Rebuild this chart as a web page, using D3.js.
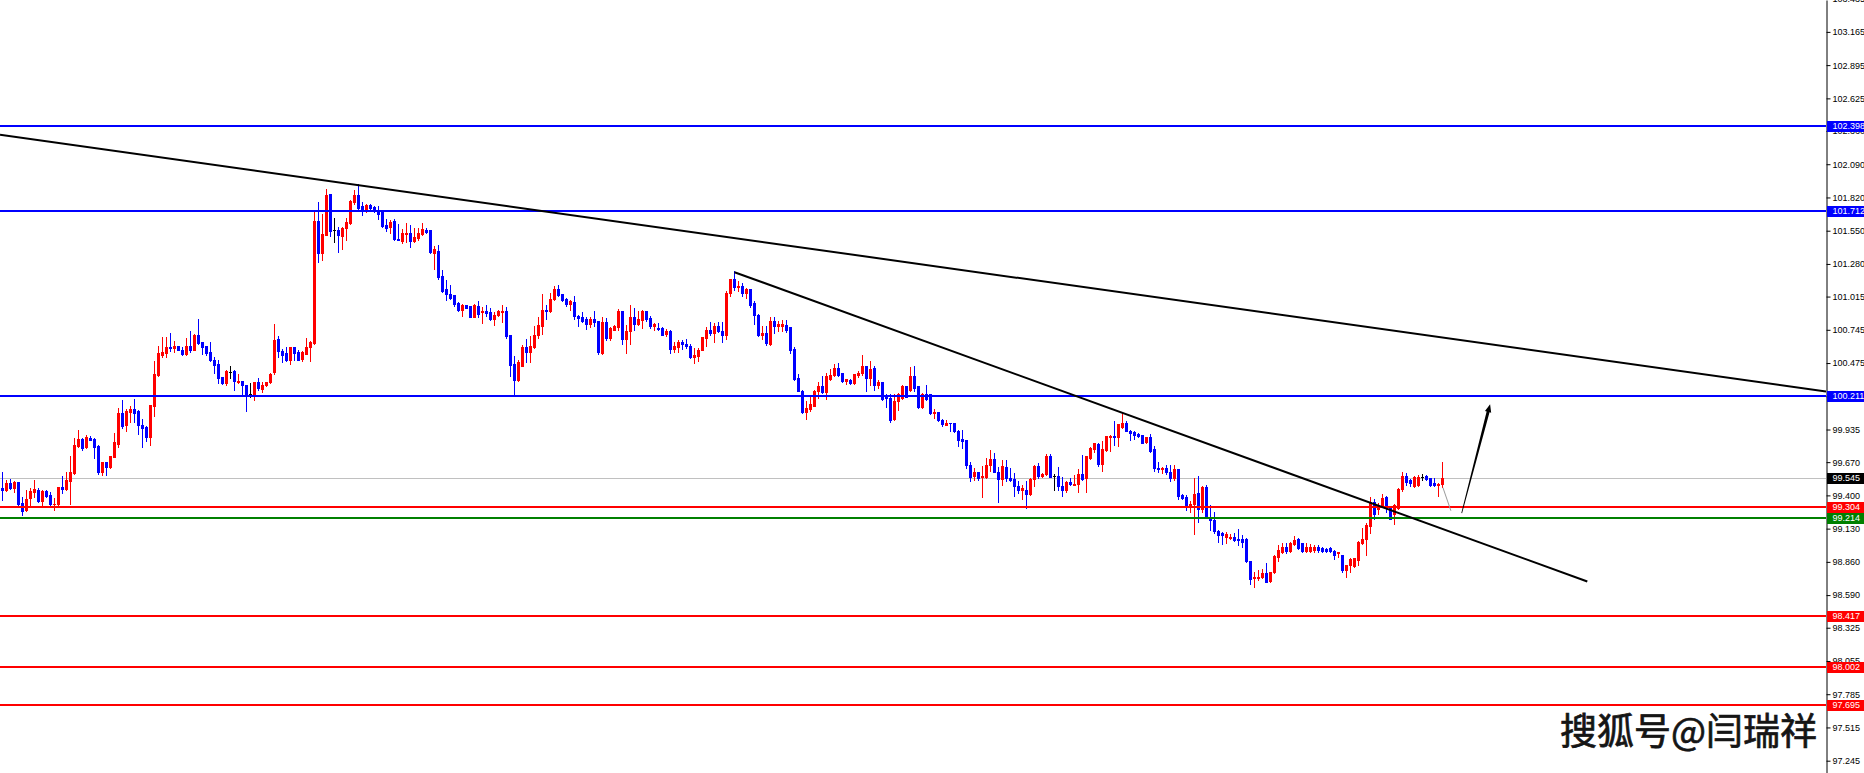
<!DOCTYPE html>
<html><head><meta charset="utf-8">
<script src="https://cdn.jsdelivr.net/npm/d3@7"></script>
<style>html,body{margin:0;padding:0;background:#fff;overflow:hidden}</style>
</head><body>
<svg id="c" width="1864" height="773"></svg>
<script>
const opens=[
99.459,99.442,99.497,99.459,99.505,99.342,99.280,99.378,99.426,99.445,
99.353,99.432,99.402,99.329,99.331,99.472,99.451,99.513,99.583,99.805,
99.862,99.792,99.870,99.854,99.805,99.594,99.675,99.629,99.711,99.819,
100.073,99.968,100.079,100.098,100.082,99.968,99.952,99.878,100.130,100.374,
100.542,100.553,100.602,100.596,100.610,100.585,100.547,100.612,100.577,100.702,
100.642,100.610,100.561,100.496,100.469,100.358,100.309,100.404,100.407,100.325,
100.333,100.298,100.227,100.227,100.317,100.268,100.298,100.317,100.406,100.674,
100.569,100.555,100.496,100.609,100.561,100.509,100.552,100.609,100.636,101.625,
101.368,101.514,101.847,101.552,101.552,101.511,101.571,101.611,101.787,101.836,
101.749,101.728,101.755,101.741,101.714,101.701,101.600,101.579,101.625,101.484,
101.470,101.522,101.535,101.470,101.489,101.527,101.557,101.552,101.368,101.389,
101.183,101.075,101.037,101.026,100.961,100.904,100.948,100.940,100.848,100.942,
100.886,100.894,100.886,100.832,100.862,100.889,100.894,100.699,100.464,100.334,
100.453,100.602,100.561,100.602,100.699,100.772,100.908,100.894,100.994,101.076,
101.032,100.994,100.954,100.967,100.854,100.845,100.832,100.791,100.832,100.813,
100.556,100.805,100.678,100.745,100.764,100.894,100.669,100.732,100.845,100.791,
100.826,100.894,100.837,100.772,100.759,100.759,100.710,100.732,100.588,100.604,
100.642,100.632,100.610,100.523,100.529,100.577,100.678,100.745,100.718,100.772,
100.732,100.699,101.043,101.156,101.089,101.102,101.048,101.075,100.962,100.867,
100.704,100.718,100.631,100.813,100.777,100.777,100.785,100.764,100.591,100.352,
100.252,100.081,100.100,100.130,100.244,100.285,100.238,100.347,100.374,100.433,
100.393,100.333,100.339,100.312,100.374,100.398,100.447,100.352,100.433,100.293,
100.325,100.198,100.190,100.019,100.168,100.190,100.285,100.257,100.366,100.285,
100.114,100.225,100.222,100.068,100.081,100.014,99.973,99.989,99.987,99.927,
99.857,99.846,99.648,99.561,99.586,99.548,99.548,99.648,99.694,99.594,
99.532,99.629,99.545,99.532,99.480,99.445,99.445,99.410,99.532,99.635,
99.559,99.572,99.716,99.559,99.559,99.480,99.440,99.505,99.488,99.491,
99.575,99.540,99.702,99.778,99.819,99.653,99.770,99.873,99.884,99.873,
99.959,99.987,99.924,99.913,99.897,99.892,99.832,99.878,99.775,99.626,
99.618,99.621,99.586,99.540,99.613,99.404,99.383,99.318,99.329,99.418,
99.288,99.472,99.220,99.201,99.112,99.093,99.058,99.052,99.066,99.047,
99.044,99.044,98.868,98.727,98.733,98.735,98.768,98.706,98.776,98.903,
98.944,98.984,98.949,99.003,99.044,99.011,98.949,98.952,98.957,98.979,
98.976,98.963,98.971,98.952,98.930,98.917,98.795,98.835,98.830,98.876,
99.011,99.044,99.155,99.350,99.290,99.323,99.383,99.296,99.250,99.296,
99.450,99.561,99.521,99.477,99.485,99.553,99.558,99.540,99.504,99.485,99.491];
const highs=[
99.586,99.526,99.537,99.518,99.505,99.383,99.440,99.459,99.521,99.456,
99.442,99.442,99.429,99.378,99.472,99.554,99.589,99.716,99.870,99.935,
99.870,99.887,99.881,99.865,99.811,99.675,99.675,99.716,99.906,100.109,
100.171,100.098,100.130,100.179,100.095,100.017,99.960,100.138,100.488,100.612,
100.683,100.683,100.723,100.658,100.610,100.602,100.677,100.732,100.715,100.829,
100.642,100.610,100.642,100.528,100.501,100.358,100.415,100.447,100.420,100.390,
100.333,100.298,100.309,100.325,100.357,100.325,100.325,100.398,100.796,100.691,
100.588,100.609,100.609,100.609,100.582,100.574,100.677,100.655,101.701,101.787,
101.684,101.890,101.847,101.657,101.579,101.584,101.652,101.801,101.882,101.931,
101.782,101.766,101.768,101.749,101.747,101.706,101.644,101.633,101.644,101.606,
101.560,101.611,101.598,101.571,101.571,101.611,101.571,101.557,101.422,101.430,
101.227,101.148,101.110,101.029,100.969,100.953,100.948,100.940,100.953,100.983,
100.934,100.943,100.919,100.886,100.908,100.948,100.927,100.705,100.529,100.502,
100.623,100.672,100.691,100.772,100.845,101.038,100.948,101.040,101.097,101.105,
101.032,101.002,100.989,101.016,100.867,100.886,100.845,100.845,100.894,100.818,
100.845,100.840,100.764,100.780,100.916,100.894,100.780,100.943,100.919,100.900,
100.902,100.894,100.854,100.799,100.799,100.767,100.751,100.745,100.642,100.659,
100.664,100.669,100.629,100.594,100.596,100.683,100.767,100.805,100.799,100.805,
100.805,101.062,101.156,101.219,101.138,101.124,101.083,101.075,100.980,100.872,
100.772,100.772,100.845,100.853,100.818,100.826,100.826,100.769,100.607,100.387,
100.257,100.163,100.203,100.255,100.317,100.366,100.393,100.428,100.471,100.474,
100.393,100.347,100.347,100.385,100.412,100.542,100.447,100.488,100.447,100.336,
100.325,100.222,100.222,100.225,100.230,100.293,100.285,100.439,100.447,100.285,
100.230,100.293,100.222,100.100,100.081,100.022,100.014,99.992,99.992,99.932,
99.932,99.846,99.675,99.621,99.594,99.635,99.702,99.770,99.743,99.629,
99.689,99.689,99.621,99.580,99.513,99.486,99.513,99.540,99.643,99.662,
99.580,99.735,99.737,99.572,99.629,99.553,99.513,99.540,99.567,99.613,
99.729,99.716,99.792,99.829,99.824,99.838,99.884,99.892,100.008,99.978,
100.073,100.008,99.932,99.924,99.903,99.892,99.873,99.900,99.802,99.675,
99.632,99.648,99.648,99.643,99.616,99.412,99.404,99.356,99.540,99.561,
99.477,99.485,99.323,99.263,99.120,99.106,99.106,99.085,99.093,99.128,
99.079,99.052,98.871,98.781,98.790,98.800,98.849,98.781,98.917,98.993,
99.011,99.011,99.025,99.071,99.052,99.017,99.011,99.003,98.993,98.993,
98.984,98.971,98.979,98.957,98.944,98.917,98.835,98.890,98.890,99.033,
99.133,99.179,99.383,99.369,99.342,99.410,99.391,99.301,99.328,99.458,
99.586,99.580,99.531,99.558,99.567,99.575,99.567,99.545,99.545,99.504,99.675];
const lows=[
99.361,99.432,99.451,99.424,99.310,99.239,99.272,99.310,99.388,99.350,
99.318,99.386,99.321,99.280,99.321,99.418,99.445,99.329,99.575,99.797,
99.767,99.789,99.846,99.702,99.572,99.564,99.567,99.621,99.711,99.797,
99.946,99.919,99.998,100.000,99.897,99.792,99.838,99.808,100.046,100.366,
100.528,100.526,100.572,100.564,100.580,100.537,100.539,100.564,100.577,100.626,
100.547,100.539,100.491,100.398,100.309,100.301,100.293,100.352,100.260,100.309,
100.222,100.087,100.200,100.176,100.257,100.238,100.292,100.311,100.385,100.523,
100.482,100.488,100.466,100.496,100.496,100.493,100.547,100.488,100.628,101.294,
101.313,101.514,101.503,101.457,101.376,101.400,101.476,101.603,101.768,101.720,
101.679,101.706,101.728,101.706,101.644,101.579,101.544,101.530,101.476,101.473,
101.449,101.457,101.414,101.457,101.476,101.516,101.530,101.368,101.238,101.156,
101.056,100.988,100.994,100.940,100.899,100.861,100.921,100.848,100.848,100.848,
100.799,100.854,100.821,100.780,100.854,100.805,100.678,100.366,100.223,100.326,
100.447,100.480,100.480,100.596,100.678,100.710,100.832,100.889,100.989,101.016,
100.975,100.935,100.908,100.832,100.772,100.808,100.751,100.767,100.772,100.548,
100.548,100.664,100.664,100.740,100.745,100.629,100.556,100.629,100.740,100.786,
100.759,100.813,100.759,100.745,100.745,100.699,100.691,100.556,100.561,100.564,
100.588,100.596,100.515,100.474,100.488,100.577,100.610,100.705,100.642,100.724,
100.650,100.672,101.016,101.070,101.062,101.016,101.002,100.934,100.791,100.691,
100.672,100.623,100.623,100.718,100.739,100.739,100.726,100.555,100.339,100.244,
100.073,100.019,100.087,100.127,100.195,100.230,100.182,100.339,100.366,100.366,
100.320,100.303,100.306,100.306,100.360,100.379,100.252,100.298,100.257,100.271,
100.176,100.122,100.000,100.014,100.095,100.182,100.203,100.249,100.249,100.108,
100.108,100.176,100.060,100.027,100.006,99.965,99.968,99.919,99.913,99.805,
99.789,99.621,99.518,99.526,99.526,99.383,99.540,99.602,99.586,99.350,
99.486,99.518,99.518,99.399,99.418,99.369,99.301,99.404,99.477,99.540,
99.553,99.567,99.548,99.440,99.440,99.391,99.426,99.486,99.486,99.431,
99.526,99.426,99.694,99.756,99.640,99.602,99.762,99.764,99.811,99.802,
99.951,99.919,99.846,99.857,99.878,99.824,99.824,99.756,99.599,99.594,
99.580,99.575,99.513,99.526,99.369,99.372,99.282,99.263,99.085,99.182,
99.263,99.215,99.120,99.098,99.025,99.003,99.011,99.044,99.033,98.998,
98.984,98.857,98.678,98.654,98.714,98.727,98.695,98.700,98.773,98.863,
98.930,98.936,98.944,98.998,98.963,98.944,98.944,98.944,98.944,98.944,
98.944,98.938,98.944,98.882,98.903,98.781,98.741,98.776,98.822,98.835,
99.006,98.917,99.098,99.206,99.247,99.309,99.269,99.209,99.166,99.290,
99.437,99.485,99.477,99.472,99.477,99.526,99.526,99.477,99.477,99.399,99.472];
const closes=[
99.442,99.497,99.459,99.505,99.334,99.275,99.372,99.432,99.448,99.353,
99.432,99.391,99.331,99.334,99.472,99.451,99.521,99.594,99.813,99.862,
99.784,99.878,99.846,99.797,99.594,99.675,99.627,99.716,99.830,100.073,
99.960,100.082,100.098,100.073,99.968,99.946,99.878,100.138,100.382,100.553,
100.561,100.602,100.596,100.612,100.580,100.547,100.612,100.577,100.702,100.634,
100.604,100.553,100.499,100.461,100.352,100.309,100.407,100.404,100.328,100.333,
100.293,100.222,100.227,100.317,100.271,100.298,100.317,100.390,100.666,100.569,
100.542,100.501,100.609,100.555,100.501,100.561,100.609,100.650,101.625,101.368,
101.522,101.841,101.544,101.552,101.514,101.576,101.617,101.795,101.836,101.733,
101.725,101.760,101.733,101.714,101.684,101.592,101.571,101.619,101.481,101.473,
101.530,101.535,101.470,101.498,101.535,101.565,101.538,101.376,101.403,101.170,
101.064,101.032,101.002,100.953,100.904,100.948,100.926,100.848,100.945,100.877,
100.894,100.881,100.829,100.867,100.894,100.894,100.691,100.458,100.334,100.480,
100.602,100.561,100.610,100.705,100.780,100.908,100.894,100.999,101.076,101.024,
100.984,100.954,100.975,100.854,100.840,100.813,100.791,100.832,100.808,100.561,
100.805,100.678,100.759,100.772,100.894,100.669,100.732,100.845,100.791,100.832,
100.894,100.832,100.772,100.789,100.751,100.705,100.732,100.588,100.610,100.642,
100.629,100.610,100.523,100.539,100.583,100.683,100.745,100.718,100.772,100.732,
100.699,101.048,101.156,101.089,101.102,101.043,101.075,100.943,100.867,100.699,
100.718,100.637,100.813,100.772,100.791,100.794,100.745,100.577,100.344,100.252,
100.081,100.108,100.141,100.249,100.285,100.238,100.371,100.379,100.433,100.374,
100.333,100.347,100.312,100.385,100.398,100.447,100.352,100.425,100.293,100.325,
100.182,100.190,100.016,100.168,100.222,100.285,100.203,100.366,100.271,100.114,
100.225,100.182,100.068,100.081,100.014,99.979,99.992,99.987,99.919,99.846,
99.838,99.643,99.553,99.586,99.545,99.556,99.648,99.694,99.588,99.532,
99.635,99.540,99.526,99.477,99.440,99.458,99.410,99.532,99.635,99.559,
99.575,99.716,99.553,99.559,99.477,99.445,99.505,99.491,99.494,99.575,
99.534,99.716,99.783,99.824,99.653,99.775,99.884,99.884,99.873,99.978,
99.987,99.924,99.905,99.892,99.886,99.829,99.873,99.764,99.626,99.613,
99.626,99.586,99.540,99.613,99.391,99.377,99.318,99.331,99.410,99.291,
99.467,99.220,99.201,99.112,99.079,99.079,99.085,99.066,99.039,99.039,
99.020,98.863,98.722,98.741,98.741,98.768,98.700,98.781,98.911,98.957,
98.984,98.949,99.011,99.039,98.971,98.949,98.979,98.979,98.984,98.957,
98.949,98.949,98.949,98.917,98.938,98.790,98.835,98.882,98.890,99.020,
99.047,99.160,99.350,99.250,99.323,99.377,99.309,99.209,99.323,99.450,
99.561,99.512,99.504,99.553,99.553,99.553,99.534,99.485,99.485,99.494,99.545];

const tickValues=[103.435,103.165,102.895,102.625,102.360,102.090,101.820,101.550,101.280,101.015,100.745,100.475,100.205,99.935,99.670,99.400,99.130,98.860,98.590,98.325,98.055,97.785,97.515,97.245];
const levelValues=[102.398,101.712,100.211,99.304,99.214,98.417,98.002,97.695];
const levelColors=["#0000ff","#0000ff","#0000ff","#ff0000","#008000","#ff0000","#ff0000","#ff0000"];
const bidValue=99.545;
// trend lines / annotations: [candle index, price]
const trendLong=[[-0.58,102.329],[455.9,100.244]];
const trendShort=[[183,101.213],[396.2,98.701]];
const pathDown=[[360.1,99.464],[362.1,99.275]];
const arrowUp=[[364.8,99.256],[371.9,100.141]];
const watermark="搜狐号@闫瑞祥";

const W=1864,H=773,axisX=1826;
const svg=d3.select("#c");
const n=Math.min(opens.length,highs.length,lows.length,closes.length);
const x=d3.scaleLinear().domain([0,360]).range([2.5,1442.5]);
const y=d3.scaleLinear().domain([97.145,103.424]).range([H,0]);

svg.append("rect").attr("width",W).attr("height",H).attr("fill","#fff");
svg.append("defs").append("clipPath").attr("id","plot").append("rect")
  .attr("x",0).attr("y",0).attr("width",axisX).attr("height",H);
const plot=svg.append("g").attr("clip-path","url(#plot)");

// bid line
plot.append("rect").attr("x",0).attr("width",axisX)
  .attr("y",Math.round(y(bidValue))).attr("height",1).attr("fill","#c0c0c0");

// candles
const data=d3.range(n).map(i=>({i,o:opens[i],h:highs[i],l:lows[i],c:closes[i]}));
const col=d=>d.c>d.o?"#ff0000":(d.c<d.o?"#0000ff":"#000000");
const cg=plot.append("g").attr("shape-rendering","crispEdges");
cg.selectAll("rect.wick").data(data).join("rect").attr("class","wick")
  .attr("x",d=>x(d.i)-0.5).attr("width",1)
  .attr("y",d=>Math.round(y(d.h)))
  .attr("height",d=>Math.round(y(d.l))-Math.round(y(d.h))+1)
  .attr("fill",col);
cg.selectAll("rect.body").data(data).join("rect").attr("class","body")
  .attr("x",d=>x(d.i)-1.5).attr("width",3)
  .attr("y",d=>Math.round(y(Math.max(d.o,d.c))))
  .attr("height",d=>Math.round(y(Math.min(d.o,d.c)))-Math.round(y(Math.max(d.o,d.c)))+1)
  .attr("fill",col);

// horizontal levels
plot.selectAll("rect.level").data(levelValues).join("rect").attr("class","level")
  .attr("x",0).attr("width",axisX)
  .attr("y",d=>Math.round(y(d))-1).attr("height",2)
  .attr("fill",(d,i)=>levelColors[i]);

// trend lines
function pt(a){return [x(a[0]),y(a[1])];}
const lp0=pt(trendLong[0]),lp1=pt(trendLong[1]);
const sl=(lp1[1]-lp0[1])/(lp1[0]-lp0[0]);
plot.append("line").attr("x1",0).attr("y1",lp0[1]+sl*(0-lp0[0]))
  .attr("x2",axisX).attr("y2",lp0[1]+sl*(axisX-lp0[0]))
  .attr("stroke","#000").attr("stroke-width",2);
const sp0=pt(trendShort[0]),sp1=pt(trendShort[1]);
plot.append("line").attr("x1",sp0[0]).attr("y1",sp0[1]).attr("x2",sp1[0]).attr("y2",sp1[1])
  .attr("stroke","#000").attr("stroke-width",2);

// projected path
const dp0=pt(pathDown[0]),dp1=pt(pathDown[1]);
plot.append("line").attr("x1",dp0[0]).attr("y1",dp0[1]).attr("x2",dp1[0]).attr("y2",dp1[1])
  .attr("stroke","#9a9a9a").attr("stroke-width",1);
const a0=pt(arrowUp[0]),a1=pt(arrowUp[1]);
(function(){
  const dx=a1[0]-a0[0],dy=a1[1]-a0[1],L=Math.hypot(dx,dy);
  const ux=dx/L,uy=dy/L,nx=-uy,ny=ux;
  const hl=8,hw=3.2;
  const bx=a1[0]-ux*hl,by=a1[1]-uy*hl;
  const w0=0.4,w1=1.5;
  const poly=[[a0[0]+nx*w0,a0[1]+ny*w0],[bx+nx*w1,by+ny*w1],[bx+nx*hw,by+ny*hw],[a1[0],a1[1]],
    [bx-nx*hw,by-ny*hw],[bx-nx*w1,by-ny*w1],[a0[0]-nx*w0,a0[1]-ny*w0]];
  plot.append("path").attr("d","M"+poly.map(p=>p.join(",")).join("L")+"Z").attr("fill","#000");
})();

// axis
const axis=d3.axisRight(y).tickValues(tickValues).tickFormat(d3.format(".3f")).tickSize(4).tickSizeOuter(0).tickPadding(2);
const ag=svg.append("g").attr("transform",`translate(${axisX+0.5},0)`).call(axis);
ag.select(".domain").attr("stroke","#000");
ag.selectAll(".tick line").attr("stroke","#000");
ag.selectAll(".tick text").attr("font-family","'Liberation Sans',Arial,sans-serif").attr("font-size",9).attr("fill","#000");

// level labels
const labelG=svg.append("g");
const labels=levelValues.map((v,i)=>({v,c:levelColors[i]})).concat([{v:bidValue,c:"#000000"}]);
labels.forEach(d=>{
  const yy=Math.round(y(d.v));
  labelG.append("rect").attr("x",axisX+1).attr("y",yy-5).attr("width",W-axisX).attr("height",11).attr("fill",d.c);
  labelG.append("text").attr("x",axisX+6.5).attr("y",yy).attr("dy","0.35em")
    .attr("font-family","'Liberation Sans',Arial,sans-serif").attr("font-size",9).attr("fill","#fff")
    .text(d3.format(".3f")(d.v));
});

// watermark
svg.append("text").attr("x",1817).attr("y",745).attr("text-anchor","end")
  .attr("font-family","'Noto Sans CJK SC',sans-serif").attr("font-size",37).attr("fill","#151515")
  .attr("stroke","#151515").attr("stroke-width",0.7)
  .text(watermark);
</script>
</body></html>
